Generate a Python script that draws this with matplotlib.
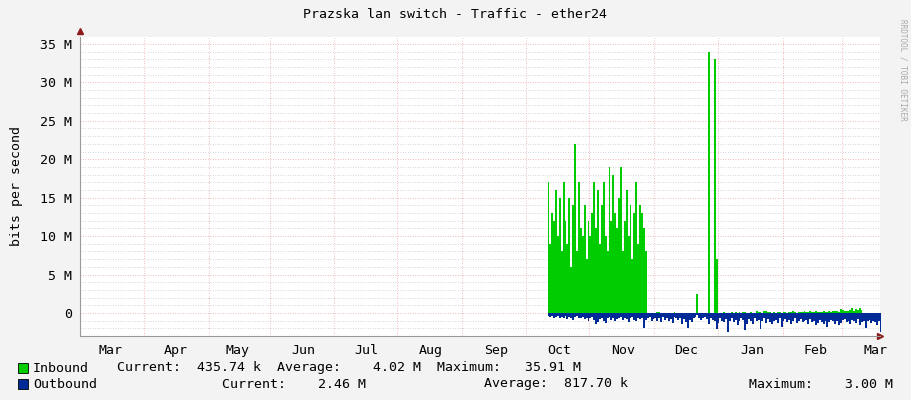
import matplotlib
matplotlib.use("Agg")
import matplotlib.pyplot as plt
import numpy as np

plt.rcParams['font.family'] = ['DejaVu Sans Mono']

# days since the left edge of the graph (about Jan 27)
month_starts = [33.5, 67.5, 99.5, 133, 166, 200, 233.5, 266.5, 300.5, 333.5, 367.5, 398.5]
month_labels = ['Mar', 'Apr', 'May', 'Jun', 'Jul', 'Aug', 'Sep', 'Oct', 'Nov', 'Dec', 'Jan', 'Feb', 'Mar']
label_days = [16.2, 50.2, 82.6, 116.6, 149.6, 183.6, 217.6, 250.5, 284, 317, 351.5, 385, 416]

in_start = 245
inbound = [17, 9, 13, 12, 16, 10, 15, 8, 17, 12, 9, 15, 6, 14, 22, 8, 17, 11, 10, 14,
           7, 12, 10, 13, 17, 11, 16, 9, 14, 17, 10, 8, 19, 12, 18, 13, 11, 15, 19, 8,
           12, 16, 10, 14, 7, 13, 17, 9, 14, 13, 11, 8, 0,
           0, 0, 0, 0, 0.1, 0.1, 0, 0, 0, 0, 0, 0, 0, 0.1, 0, 0, 0, 0, 0, 0, 0, 0, 0,
           0, 0, 2.5, 0, 0, 0, 0, 0, 34, 0, 0, 33, 7, 0, 0, 0, 0.1, 0, 0, 0, 0.1, 0,
           0.1, 0, 0.1, 0, 0.1, 0.1, 0, 0, 0.1, 0, 0, 0.2, 0.1, 0.1, 0, 0.2, 0.2, 0.1, 0.1, 0,
           0.1, 0, 0.1, 0.1, 0, 0.1, 0.1, 0, 0.1, 0.1, 0.2, 0.1, 0, 0.1, 0.1, 0.1, 0.2, 0.1, 0.1, 0.2,
           0.1, 0.1, 0.2, 0.1, 0.1, 0.1, 0.2, 0.1, 0.1, 0.2, 0.1, 0.2, 0.3, 0.2, 0.1, 0.5, 0.4, 0.2, 0.3, 0.2,
           0.4, 0.6, 0.3, 0.5, 0.4, 0.6, 0.4]
outbound = [0.4, 0.5, 0.4, 0.6, 0.5, 0.4, 0.7, 0.5, 0.6, 0.4, 0.8, 0.5, 0.6, 0.9, 0.5, 0.4, 0.7, 0.6, 0.5, 0.8,
            0.6, 1.0, 0.7, 0.5, 0.9, 1.5, 1.2, 0.8, 0.6, 1.0, 1.3, 0.7, 0.5, 0.9, 0.6, 1.1, 0.8, 0.7, 0.5, 0.9,
            0.6, 0.8, 1.2, 0.7, 0.5, 0.9, 1.0, 0.6, 0.8, 0.7, 2.0, 0.9, 0.6, 0.5, 1.1,
            0.8, 0.6, 1.0, 0.7, 1.2, 0.5, 0.9, 0.6, 1.0, 0.8, 1.3, 0.5, 0.7, 0.9, 0.6, 1.5, 0.8, 1.2, 2.0, 0.9,
            1.2, 0.7, 0.5, 0.3, 0.6, 0.9, 0.7, 0.5, 0.8, 1.4, 0.6, 0.9, 1.1, 2.1, 1.3, 0.7, 1.0, 1.2, 0.8, 2.5,
            1.0, 0.7, 1.2, 0.9, 1.6, 1.1, 0.6, 0.9, 2.2, 1.5, 0.8, 1.0, 1.4, 0.7, 1.1, 0.9, 2.1, 1.0, 0.7, 1.3,
            0.8, 1.2, 1.5, 1.0, 0.9, 1.3, 0.7, 1.8, 1.1, 0.8, 1.2, 0.9, 1.5, 1.0, 0.7, 1.3, 1.1, 0.8, 1.2, 1.0,
            0.9, 1.4, 0.8, 1.2, 1.0, 1.6, 1.3, 0.9, 1.2, 1.5, 1.0, 1.8, 1.2, 0.9, 1.1, 1.4, 1.0, 1.6, 1.3, 0.9,
            0.8, 1.2, 1.0, 1.5, 0.9, 1.1, 1.3, 0.8, 1.6, 1.2, 1.0, 1.9, 1.1, 0.9, 1.3, 1.0, 1.2, 1.6, 1.1, 2.5]

d_in = in_start + np.arange(len(inbound))
d_out = in_start + np.arange(len(outbound))

fig = plt.figure(figsize=(9.11, 4.0), dpi=100, facecolor='#f3f3f3')
ax = fig.add_axes([80 / 911, 64 / 400, 800 / 911, 299 / 400])
ax.set_facecolor('white')

ax.fill_between(d_in, 0, inbound, step='mid', color='#00cc00', lw=0)
ax.fill_between(d_out, 0, -np.array(outbound), step='mid', color='#002a97', lw=0)

ax.set_xlim(0, 418.5)
ax.set_ylim(-3.0, 35.9)

for y in np.arange(-2, 36, 1):
    ax.axhline(y, color='#c8c8c8' if y % 5 else '#f0a0a0', lw=0.6, ls=(0, (1, 2)), zorder=0)
for d in month_starts:
    ax.axvline(d, color='#f0a0a0', lw=0.6, ls=(0, (1, 2)), zorder=0)

ax.set_yticks(range(0, 36, 5))
ax.set_yticklabels(['0'] + ['%d M' % v for v in range(5, 36, 5)])
ax.set_xticks(label_days)
ax.set_xticklabels(month_labels)
ax.tick_params(length=0, labelsize=9.5, colors='#000000', pad=6)
for s in ['top', 'right']:
    ax.spines[s].set_visible(False)
ax.spines['left'].set_color('#999999')
ax.spines['bottom'].set_color('#999999')
ax.plot([1], [0], transform=ax.transAxes, marker='>', color='#8b1a1a', ms=4, clip_on=False)
ax.plot([0], [1.02], transform=ax.transAxes, marker='^', color='#8b1a1a', ms=4, clip_on=False)
ax.set_ylabel('bits per second', fontsize=9.5, labelpad=12)

fig.text(455 / 911, 1 - 15 / 400, 'Prazska lan switch - Traffic - ether24', ha='center', va='center', fontsize=9.5)
fig.text(903 / 911, 1 - 70 / 400, 'RRDTOOL / TOBI OETIKER', rotation=270, ha='center', va='center',
         fontsize=5.5, color='#aaaaaa')

fig.patches.append(plt.Rectangle((18 / 911, 1 - 373 / 400), 10 / 911, 10 / 400, transform=fig.transFigure,
                                 facecolor='#00cc00', edgecolor='black', lw=0.6))
fig.patches.append(plt.Rectangle((18 / 911, 1 - 389 / 400), 10 / 911, 10 / 400, transform=fig.transFigure,
                                 facecolor='#002a97', edgecolor='black', lw=0.6))
leg = dict(fontsize=9.5, va='center', ha='left')
fig.text(33 / 911, 1 - 368 / 400, 'Inbound', **leg)
fig.text(117 / 911, 1 - 368 / 400, 'Current:  435.74 k  Average:    4.02 M  Maximum:   35.91 M', **leg)
fig.text(33 / 911, 1 - 384 / 400, 'Outbound', **leg)
fig.text(222 / 911, 1 - 384 / 400, 'Current:    2.46 M', **leg)
fig.text(484 / 911, 1 - 384 / 400, 'Average:  817.70 k', **leg)
fig.text(749 / 911, 1 - 384 / 400, 'Maximum:    3.00 M', **leg)

fig.savefig('out.png', dpi=100, facecolor=fig.get_facecolor())
